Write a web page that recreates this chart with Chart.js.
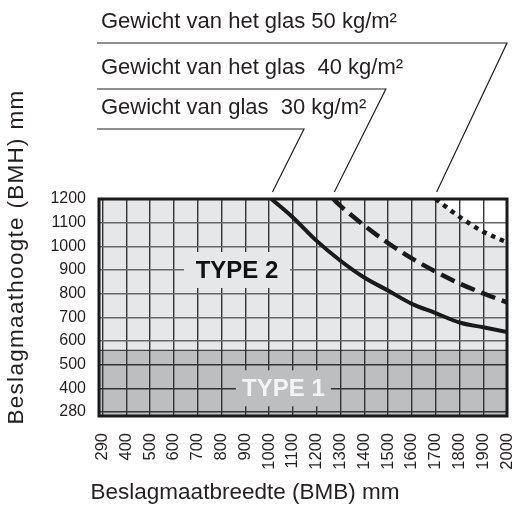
<!DOCTYPE html>
<html>
<head>
<meta charset="utf-8">
<script src="https://cdn.jsdelivr.net/npm/chart.js@4.4.1/dist/chart.umd.min.js"></script>
<style>
  html, body { margin: 0; padding: 0; background: #fff; }
</style>
</head>
<body>
<canvas id="chart" width="516" height="506"></canvas>
<script>
// Axis ticks (the first column, 290-400, is drawn as a full grid step)
const xTickLabels = ['290', '400', '500', '600', '700', '800', '900', '1000', '1100',
  '1200', '1300', '1400', '1500', '1600', '1700', '1800', '1900', '2000'];
const xTickValues = [300, 400, 500, 600, 700, 800, 900, 1000, 1100,
  1200, 1300, 1400, 1500, 1600, 1700, 1800, 1900, 2000];
const yTickLabels = ['280', '400', '500', '600', '700', '800', '900', '1000', '1100', '1200'];
const yTickValues = [300, 400, 500, 600, 700, 800, 900, 1000, 1100, 1200];

// Height below which a TYPE 1 fitting is used
const type1Limit = 560;

// Maximum fitting height per width, by glass weight
const seriesNames = ['Gewicht van glas  30 kg/m²', 'Gewicht van het glas  40 kg/m²', 'Gewicht van het glas 50 kg/m²'];
const bmb30 = [1010, 1100, 1200, 1300, 1400, 1500, 1600, 1700, 1800, 1900, 2000];
const bmh30 = [1200, 1122, 1023, 939, 868, 813, 757, 718, 678, 658, 638];
const bmb40 = [1270, 1300, 1400, 1500, 1600, 1700, 1800, 1900, 2000];
const bmh40 = [1200, 1171, 1088, 1014, 949, 893, 843, 801, 763];
const bmb50 = [1700, 1800, 1900, 2000];
const bmh50 = [1200, 1125, 1062, 1017];

const FONT = "'Liberation Sans', Arial, sans-serif";
const INK = '#231f20';
const LIGHT = '#e6e7e8';
const DARK = '#bcbec0';

const toPoints = (xs, ys) => xs.map((v, i) => ({ x: v, y: ys[i] }));

// Zone backgrounds, painted before the grid
const zonesPlugin = {
  id: 'zones',
  beforeDraw(chart) {
    const { ctx, chartArea: a, scales: { x, y } } = chart;
    const yLimit = y.getPixelForValue(type1Limit);
    ctx.save();
    ctx.fillStyle = '#fff';
    ctx.fillRect(0, 0, chart.width, chart.height);

    ctx.fillStyle = DARK;
    ctx.fillRect(a.left, yLimit, a.right - a.left, a.bottom - yLimit);

    // type 2 zone ends at the 50 kg/m² curve
    ctx.fillStyle = LIGHT;
    ctx.beginPath();
    ctx.moveTo(a.left, yLimit);
    ctx.lineTo(a.left, a.top);
    bmb50.forEach((v, i) => ctx.lineTo(x.getPixelForValue(v), y.getPixelForValue(bmh50[i])));
    ctx.lineTo(a.right, yLimit);
    ctx.closePath();
    ctx.fill();

    ctx.strokeStyle = '#444';
    ctx.lineWidth = 1.3;
    ctx.beginPath();
    ctx.moveTo(a.left, yLimit);
    ctx.lineTo(a.right, yLimit);
    ctx.stroke();
    ctx.restore();
  }
};

// TYPE labels sit on a patch of their zone colour, over the grid
const typeLabels = [
  { text: 'TYPE 2', x: 865, y: 900, color: '#111', bg: LIGHT, w: 106, h: 36 },
  { text: 'TYPE 1', x: 1060, y: 400, color: '#f4f4f4', bg: DARK, w: 95, h: 36 }
];
const labelsPlugin = {
  id: 'typeLabels',
  beforeDatasetsDraw(chart) {
    const { ctx, scales: { x, y } } = chart;
    ctx.save();
    typeLabels.forEach(l => {
      const px = x.getPixelForValue(l.x);
      const py = y.getPixelForValue(l.y);
      ctx.fillStyle = l.bg;
      ctx.fillRect(px - l.w / 2, py - l.h / 2, l.w, l.h);
      ctx.fillStyle = l.color;
      ctx.font = 'bold 24px ' + FONT;
      ctx.textAlign = 'center';
      ctx.textBaseline = 'middle';
      ctx.fillText(l.text, px, py + 1);
    });
    ctx.restore();
  }
};

// Frame, leader-line captions and axis titles
const leaderLevels = [129, 89, 43];
const decorPlugin = {
  id: 'decor',
  afterDraw(chart) {
    const { ctx, chartArea: a, scales: { x } } = chart;
    ctx.save();
    ctx.strokeStyle = '#1a1a1a';
    ctx.lineWidth = 3;
    ctx.strokeRect(a.left, a.top, a.right - a.left, a.bottom - a.top);

    const starts = [bmb30[0], bmb40[0], bmb50[0]];
    ctx.lineWidth = 1.2;
    ctx.strokeStyle = INK;
    ctx.fillStyle = INK;
    ctx.font = '22px ' + FONT;
    ctx.textAlign = 'left';
    ctx.textBaseline = 'alphabetic';
    seriesNames.forEach((name, i) => {
      const endX = x.getPixelForValue(starts[i]) + 1;
      const endY = a.top - 7;
      const lineY = leaderLevels[i];
      const cornerX = Math.min(endX + (endY - lineY) * 0.5, a.right);
      ctx.beginPath();
      ctx.moveTo(97, lineY);
      ctx.lineTo(cornerX, lineY);
      ctx.lineTo(endX, endY);
      ctx.stroke();
      ctx.fillText(name, 101, lineY - 15);
    });

    ctx.textAlign = 'center';
    ctx.textBaseline = 'middle';
    ctx.font = '22.5px ' + FONT;
    ctx.fillText('Beslagmaatbreedte (BMB) mm', 245, 493);
    ctx.translate(17, 257);
    ctx.rotate(-Math.PI / 2);
    ctx.letterSpacing = '1.3px';
    ctx.fillText('Beslagmaathoogte (BMH) mm', 0, 0);
    ctx.restore();
  }
};

new Chart(document.getElementById('chart'), {
  type: 'line',
  data: {
    datasets: [
      {
        label: seriesNames[0],
        data: toPoints(bmb30, bmh30),
        borderColor: '#1a1a1a',
        borderWidth: 4
      },
      {
        label: seriesNames[1],
        data: toPoints(bmb40, bmh40),
        borderColor: '#1a1a1a',
        borderWidth: 4.5,
        borderDash: [15, 7]
      },
      {
        label: seriesNames[2],
        data: toPoints(bmb50, bmh50),
        borderColor: '#1a1a1a',
        borderWidth: 4.5,
        borderDash: [4.5, 5]
      }
    ]
  },
  options: {
    responsive: false,
    animation: false,
    events: [],
    layout: { padding: { top: 199, right: 9, left: 0, bottom: 0 } },
    elements: {
      point: { radius: 0 },
      line: { cubicInterpolationMode: 'monotone', fill: false }
    },
    plugins: {
      legend: { display: false },
      tooltip: { enabled: false }
    },
    scales: {
      x: {
        type: 'linear',
        min: 285,
        max: 2000,
        afterBuildTicks: s => { s.ticks = xTickValues.map(v => ({ value: v })); },
        afterFit: s => {
          s.height = 90;
          s.paddingLeft = 0;
          s.paddingRight = 0;
        },
        ticks: {
          autoSkip: false,
          minRotation: 90,
          maxRotation: 90,
          padding: 17,
          color: INK,
          font: { family: FONT, size: 16.5 },
          callback: (v, i) => xTickLabels[i]
        },
        grid: { drawTicks: false, color: '#333', lineWidth: 1.4 },
        border: { display: false }
      },
      y: {
        type: 'linear',
        min: 283,
        max: 1200,
        afterBuildTicks: s => { s.ticks = yTickValues.map(v => ({ value: v })); },
        afterFit: s => {
          s.width = 99;
          s.paddingTop = 0;
          s.paddingBottom = 0;
        },
        ticks: {
          padding: 13,
          color: INK,
          font: { family: FONT, size: 16 },
          callback: (v, i) => yTickLabels[i]
        },
        grid: {
          drawTicks: false,
          lineWidth: 1.4,
          color: c => (c.tick && c.tick.value <= 500 ? '#333' : '#666')
        },
        border: { display: false }
      }
    }
  },
  plugins: [zonesPlugin, labelsPlugin, decorPlugin]
});
</script>
</body>
</html>
